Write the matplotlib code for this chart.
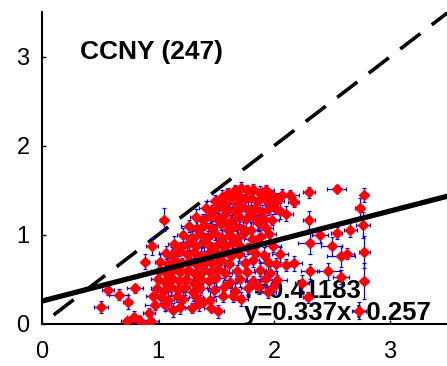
import numpy as np
import matplotlib
matplotlib.use("Agg")
import matplotlib.pyplot as plt

# ── Data ──────────────────────────────────────────────────────────────────────
site_label = "CCNY (247)"
r_text     = "r=0.41183"
fit_text   = "y=0.337x+0.257"
fit_slope  = 0.337
fit_icept  = 0.257
tick_vals  = [0, 1, 2, 3]

# outlying points + dense cluster, row by row
x_vals = [
    0.51, 0.57, 0.66, 0.74, 0.80, 0.73, 0.79, 0.84, 0.87, 0.94, 0.89, 0.95, 1.05,
    0.96, 0.97, 0.92, 1.13, 1.29, 1.39, 1.52, 1.65,
    2.54, 2.30, 2.78, 2.77, 2.74, 2.78, 2.78, 2.73, 2.58, 2.58, 2.63, 2.47, 2.31,
    2.31, 2.30, 2.40, 2.50, 2.54, 2.66, 2.29, 2.17, 2.10, 2.24, 2.03, 1.99, 1.95,
    2.10, 2.17, 2.14, 2.07, 1.98, 1.86, 2.01,
    1.60, 1.66, 1.72, 1.77, 1.82, 1.88, 1.93, 1.70, 1.63, 1.55,
    1.49, 1.57, 1.75, 1.80, 1.86, 1.92, 2.03, 1.68, 1.97,
    1.41, 1.47, 1.53, 1.60, 1.66, 1.72, 1.78, 1.84, 1.90, 1.95, 2.05,
    1.33, 1.39, 1.45, 1.51, 1.57, 1.63, 1.70, 1.76, 1.82, 1.91, 1.98, 1.87,
    1.27, 1.34, 1.40, 1.47, 1.54, 1.60, 1.66, 1.73, 1.80, 1.93, 1.58,
    1.22, 1.29, 1.36, 1.43, 1.49, 1.55, 1.62, 1.68, 1.74, 1.81, 1.88, 1.96,
    1.14, 1.20, 1.27, 1.33, 1.40, 1.46, 1.52, 1.59, 1.65, 1.71, 1.78, 1.85, 1.99,
    1.07, 1.12, 1.18, 1.25, 1.31, 1.37, 1.44, 1.50, 1.57, 1.63, 1.70, 1.84, 1.91, 2.05,
    1.02, 1.09, 1.15, 1.21, 1.28, 1.34, 1.41, 1.47, 1.54, 1.61, 1.75, 1.82, 1.95, 2.02,
    1.01, 1.07, 1.13, 1.19, 1.26, 1.32, 1.39, 1.45, 1.52, 1.58, 1.68, 1.77, 1.88, 1.97,
    1.00, 1.06, 1.12, 1.18, 1.24, 1.31, 1.37, 1.44, 1.50, 1.62, 1.71, 1.82, 1.92,
    0.99, 1.05, 1.11, 1.17, 1.23, 1.30, 1.36, 1.48, 1.57, 1.66, 1.78, 1.87,
    1.03, 1.09, 1.16, 1.22, 1.33, 1.45, 1.56, 1.72,
    1.06, 1.19, 1.35, 1.46,
]
y_vals = [
    0.19, 0.38, 0.33, 0.25, 0.40, 0.03, 0.08, 0.04, 0.00, 0.03, 0.70, 0.87, 1.17,
    0.31, 0.21, 0.12, 0.16, 0.18, 0.25, 0.14, 0.31,
    1.52, 1.48, 1.45, 1.11, 1.30, 0.81, 0.48, 0.15, 0.53, 0.76, 0.79, 0.59, 0.59,
    0.91, 1.17, 1.00, 0.87, 1.02, 1.06, 0.30, 0.68, 0.66, 0.46, 0.49, 0.42, 0.36,
    1.24, 1.37, 1.45, 1.45, 1.45, 1.15, 1.30,
    1.47, 1.51, 1.53, 1.50, 1.52, 1.47, 1.50, 1.44, 1.42, 1.43,
    1.38, 1.36, 1.40, 1.42, 1.38, 1.40, 1.38, 1.35, 1.35,
    1.30, 1.27, 1.31, 1.29, 1.26, 1.31, 1.28, 1.30, 1.26, 1.29, 1.27,
    1.20, 1.17, 1.21, 1.18, 1.22, 1.16, 1.20, 1.18, 1.21, 1.18, 1.17, 1.13,
    1.10, 1.07, 1.11, 1.08, 1.12, 1.06, 1.10, 1.07, 1.05, 1.08, 1.14,
    1.00, 0.97, 1.01, 0.98, 1.02, 0.96, 1.00, 0.97, 1.02, 0.95, 0.98, 1.01,
    0.90, 0.86, 0.91, 0.88, 0.92, 0.86, 0.90, 0.87, 0.92, 0.88, 0.85, 0.90, 0.88,
    0.80, 0.77, 0.82, 0.78, 0.81, 0.76, 0.80, 0.78, 0.82, 0.76, 0.79, 0.80, 0.77, 0.78,
    0.70, 0.67, 0.72, 0.68, 0.71, 0.66, 0.70, 0.68, 0.72, 0.67, 0.69, 0.72, 0.70, 0.67,
    0.60, 0.57, 0.62, 0.58, 0.61, 0.56, 0.60, 0.58, 0.62, 0.57, 0.60, 0.58, 0.61, 0.57,
    0.50, 0.47, 0.52, 0.48, 0.51, 0.46, 0.50, 0.48, 0.52, 0.47, 0.50, 0.48, 0.51,
    0.40, 0.37, 0.42, 0.38, 0.41, 0.36, 0.40, 0.38, 0.41, 0.37, 0.40, 0.42,
    0.30, 0.27, 0.31, 0.28, 0.30, 0.27, 0.31, 0.28,
    0.21, 0.19, 0.22, 0.18,
]
x_err = [
    0.06, 0.05, 0.08, 0.04, 0.07, 0.05, 0.06, 0.09, 0.04, 0.07, 0.03, 0.05, 0.03,
    0.06, 0.08, 0.05, 0.07, 0.06, 0.04, 0.05, 0.08,
    0.08, 0.05, 0.03, 0.06, 0.04, 0.05, 0.03, 0.06, 0.07, 0.12, 0.06, 0.10, 0.08,
    0.10, 0.05, 0.07, 0.09, 0.05, 0.06, 0.04, 0.07, 0.05, 0.06, 0.08, 0.05, 0.07,
    0.06, 0.05, 0.08, 0.04, 0.06, 0.07, 0.05,
    0.05, 0.07, 0.04, 0.06, 0.08, 0.05, 0.07, 0.04, 0.06, 0.05,
    0.07, 0.05, 0.06, 0.04, 0.08, 0.05, 0.06, 0.07, 0.05,
    0.06, 0.04, 0.07, 0.05, 0.06, 0.08, 0.05, 0.04, 0.07, 0.06, 0.05,
    0.05, 0.07, 0.04, 0.06, 0.05, 0.08, 0.06, 0.05, 0.07, 0.04, 0.06, 0.05,
    0.07, 0.05, 0.06, 0.04, 0.08, 0.05, 0.06, 0.07, 0.05, 0.06, 0.04,
    0.06, 0.05, 0.07, 0.04, 0.06, 0.05, 0.08, 0.06, 0.05, 0.07, 0.04, 0.06,
    0.05, 0.07, 0.04, 0.06, 0.05, 0.08, 0.06, 0.05, 0.07, 0.04, 0.06, 0.05, 0.07,
    0.06, 0.05, 0.07, 0.04, 0.06, 0.05, 0.08, 0.06, 0.05, 0.07, 0.04, 0.06, 0.05, 0.07,
    0.05, 0.07, 0.04, 0.06, 0.05, 0.08, 0.06, 0.05, 0.07, 0.04, 0.06, 0.05, 0.07, 0.06,
    0.07, 0.05, 0.06, 0.04, 0.08, 0.05, 0.06, 0.07, 0.05, 0.06, 0.04, 0.07, 0.05, 0.06,
    0.06, 0.04, 0.07, 0.05, 0.06, 0.08, 0.05, 0.04, 0.07, 0.06, 0.05, 0.07, 0.04,
    0.05, 0.07, 0.04, 0.06, 0.05, 0.08, 0.06, 0.05, 0.07, 0.04, 0.06, 0.05,
    0.06, 0.05, 0.07, 0.04, 0.06, 0.05, 0.08, 0.06,
    0.05, 0.07, 0.04, 0.06,
]
y_err = [
    0.07, 0.05, 0.06, 0.08, 0.05, 0.04, 0.06, 0.05, 0.03, 0.04, 0.08, 0.10, 0.13,
    0.07, 0.05, 0.06, 0.08, 0.06, 0.05, 0.07, 0.06,
    0.04, 0.06, 0.08, 0.15, 0.12, 0.18, 0.20, 0.10, 0.08, 0.12, 0.06, 0.10, 0.08,
    0.12, 0.10, 0.09, 0.11, 0.07, 0.08, 0.06, 0.08, 0.07, 0.09, 0.06, 0.08, 0.07,
    0.08, 0.06, 0.05, 0.07, 0.06, 0.09, 0.07,
    0.06, 0.05, 0.07, 0.06, 0.05, 0.08, 0.06, 0.07, 0.05, 0.08,
    0.07, 0.09, 0.06, 0.08, 0.07, 0.06, 0.09, 0.07, 0.08,
    0.08, 0.07, 0.09, 0.06, 0.08, 0.07, 0.10, 0.06, 0.08, 0.07, 0.09,
    0.09, 0.06, 0.08, 0.07, 0.10, 0.06, 0.08, 0.09, 0.07, 0.08, 0.06, 0.09,
    0.07, 0.09, 0.06, 0.08, 0.07, 0.10, 0.06, 0.08, 0.09, 0.07, 0.08,
    0.08, 0.07, 0.09, 0.06, 0.08, 0.10, 0.07, 0.08, 0.06, 0.09, 0.07, 0.08,
    0.09, 0.06, 0.08, 0.07, 0.10, 0.06, 0.08, 0.09, 0.07, 0.08, 0.06, 0.09, 0.07,
    0.07, 0.09, 0.06, 0.08, 0.07, 0.10, 0.06, 0.08, 0.09, 0.07, 0.08, 0.06, 0.09, 0.08,
    0.08, 0.07, 0.09, 0.06, 0.08, 0.10, 0.07, 0.08, 0.06, 0.09, 0.07, 0.08, 0.10, 0.07,
    0.09, 0.06, 0.08, 0.07, 0.10, 0.06, 0.08, 0.09, 0.07, 0.08, 0.06, 0.09, 0.07, 0.08,
    0.07, 0.09, 0.06, 0.08, 0.07, 0.10, 0.06, 0.08, 0.09, 0.07, 0.08, 0.06, 0.09,
    0.08, 0.07, 0.09, 0.06, 0.08, 0.10, 0.07, 0.08, 0.06, 0.09, 0.07, 0.08,
    0.07, 0.09, 0.06, 0.08, 0.07, 0.10, 0.06, 0.08,
    0.06, 0.08, 0.07, 0.05,
]

# ── Figure ────────────────────────────────────────────────────────────────────
plt.rcParams["font.family"] = ["Liberation Sans", "DejaVu Sans"]

fig = plt.figure(figsize=(4.47, 3.66), dpi=100, facecolor="white")
ax = fig.add_axes([0.094, 0.115, 0.908, 0.851])
ax.set_xlim(0, 3.5)
ax.set_ylim(0, 3.5)

# 1:1 reference line
one_to_one = np.array([0.1, 3.5])
ax.plot(one_to_one, one_to_one, color="black", lw=2.6, dashes=(7, 4), zorder=2)

# observations with error bars
ax.errorbar(x_vals, y_vals, xerr=x_err, yerr=y_err, fmt="none",
            ecolor="blue", elinewidth=0.9, capsize=1.5, capthick=0.9, zorder=3)
ax.plot(x_vals, y_vals, "D", color="red", mec="red", ms=5.4, zorder=4)

# linear fit
xf = np.array([0.0, 3.5])
ax.plot(xf, fit_slope * xf + fit_icept, color="black", lw=3.8,
        solid_capstyle="butt", zorder=5)

# annotations (stats sit under the markers, as in the original)
ax.text(0.33, 3.06, site_label, fontsize=19, fontweight="bold", va="center")
ax.text(1.74, 0.29, r_text, fontsize=18.5, fontweight="bold", va="baseline", zorder=2.5)
ax.text(1.74, 0.04, fit_text, fontsize=18.5, fontweight="bold", va="baseline", zorder=2.5)

ax.set_xticks(tick_vals)
ax.set_yticks(tick_vals)
ax.tick_params(direction="in", length=3, width=1, labelsize=17)
ax.tick_params(axis="x", pad=12)
ax.tick_params(axis="y", pad=9)
ax.spines["top"].set_visible(False)
ax.spines["right"].set_visible(False)
for s in ("left", "bottom"):
    ax.spines[s].set_linewidth(1.5)

fig.savefig("out.png", dpi=100, facecolor="white")
